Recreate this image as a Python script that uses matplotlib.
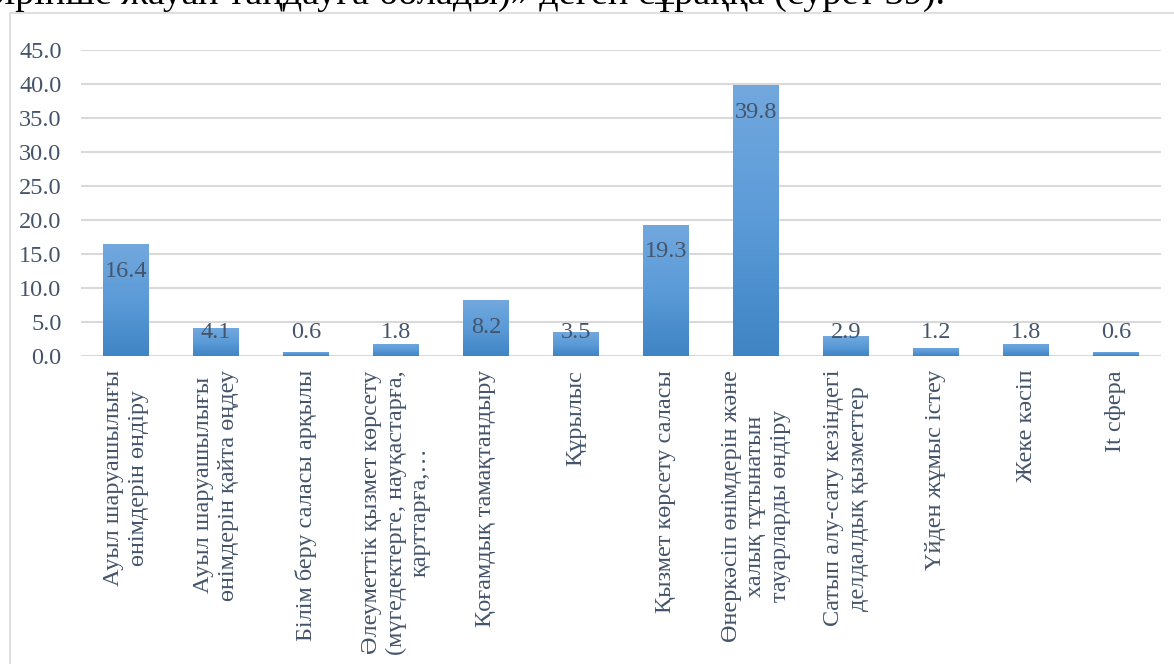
import matplotlib
matplotlib.use("Agg")
import matplotlib.pyplot as plt
from matplotlib.colors import LinearSegmentedColormap
from matplotlib.patches import Rectangle
import numpy as np

plt.rcParams['font.family'] = ['Liberation Serif', 'DejaVu Serif']

categories = [
    "Ауыл шаруашылығы\nөнімдерін өндіру",
    "Ауыл шаруашылығы\nөнімдерін қайта өңдеу",
    "Білім беру саласы арқылы",
    "Әлеуметтік қызмет көрсету\n(мүгедектерге, науқастарға,\nқарттарға,…",
    "Қоғамдық тамақтандыру",
    "Құрылыс",
    "Қызмет көрсету саласы",
    "Өнеркәсіп өнімдерін және\nхалық тұтынатын\nтауарларды өндіру",
    "Сатып алу-сату кезіндегі\nделдалдық қызметтер",
    "Үйден жұмыс істеу",
    "Жеке кәсіп",
    "It сфера",
]
values = [16.4, 4.1, 0.6, 1.8, 8.2, 3.5, 19.3, 39.8, 2.9, 1.2, 1.8, 0.6]
yticks = [0, 5, 10, 15, 20, 25, 30, 35, 40, 45]
caption = "бірінше жауап таңдауға болады)» деген сұраққа (сурет 39)."

TEXT = '#44546A'
GRID = '#D9D9D9'
FS = 17.5
W, H = 1174, 664

fig = plt.figure(figsize=(W / 100, H / 100), dpi=100)
ax = fig.add_axes([81 / W, 1 - 356 / H, 1080 / W, 306 / H])

# frame of the chart object (runs off the right and bottom edges)
fig.patches.append(Rectangle((9.5 / W, -0.1), 1.2, 1 - 12.5 / H + 0.1,
                             transform=fig.transFigure, fill=False,
                             edgecolor=GRID, linewidth=1.2))

# caption line of the document, cut off at the top
fig.text(945 / W, 1 - 4 / H, caption, ha='right', va='baseline',
         fontsize=27.5, color='black')

cmap = LinearSegmentedColormap.from_list('bar', ['#3F84C4', '#5B9BD8', '#72A8DE'])
x = np.arange(len(values))
bars = ax.bar(x, values, width=0.51, color='none', zorder=2)
grad = np.linspace(0, 1, 256).reshape(-1, 1)
for b in bars:
    x0, w, h = b.get_x(), b.get_width(), b.get_height()
    im = ax.imshow(grad, extent=[x0, x0 + w, 0, h], origin='lower',
                   aspect='auto', cmap=cmap, interpolation='bilinear', zorder=2)
    im.set_clip_path(b)

for xi, v in zip(x, values):
    ax.text(xi, max(v - 4.0, 3.5), f"{v:.1f}", ha='center', va='center',
            fontsize=FS, color=TEXT, zorder=3)

ax.set_xlim(-0.5, len(values) - 0.5)
ax.set_ylim(0, 45)
ax.set_yticks(yticks)
ax.set_yticklabels([f"{t:.1f}" for t in yticks], fontsize=FS, color=TEXT)
ax.set_xticks(x)
ax.set_xticklabels(categories, rotation=90, fontsize=FS, color=TEXT,
                   va='top', ha='center', multialignment='center')
ax.tick_params(axis='x', length=0, pad=10)
ax.tick_params(axis='y', length=0, pad=14)
ax.grid(axis='y', color=GRID, linewidth=1.5, zorder=0)
ax.set_axisbelow(True)
for s in ax.spines.values():
    s.set_visible(False)

fig.savefig("out.png", dpi=100)
